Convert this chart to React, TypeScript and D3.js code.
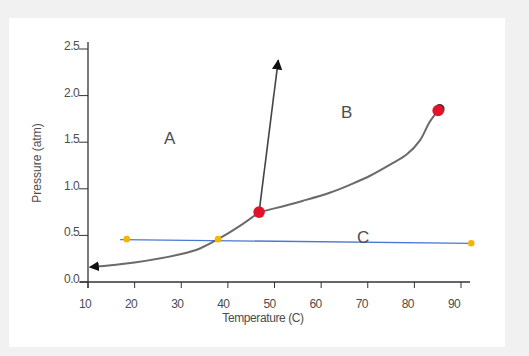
import React from "react";
import * as d3 from "d3";

const xTicks = [10, 20, 30, 40, 50, 60, 70, 80, 90];
const yTicks = [0, 0.5, 1.0, 1.5, 2.0, 2.5];

const sublimationT = [10.4, 20, 30, 34, 37.9, 42.5, 46.7];
const sublimationP = [0.16, 0.21, 0.3, 0.36, 0.46, 0.6, 0.75];

const vaporT = [46.7, 50, 56, 62, 66.5, 70.5, 74.8, 78.4, 81.2, 83.3, 85.1];
const vaporP = [0.75, 0.79, 0.87, 0.96, 1.05, 1.14, 1.26, 1.37, 1.52, 1.72, 1.84];

const fusionT = [46.7, 50.8];
const fusionP = [0.75, 2.38];

const isobarT = [16.9, 92.2];
const isobarP = [0.455, 0.415];

const yellowT = [18.3, 37.9, 92.2];
const yellowP = [0.46, 0.46, 0.415];

const redT = [46.7, 85.1];
const redP = [0.75, 1.84];

const regionLabels = ["A", "B", "C"];
const regionT = [27.5, 65.5, 69];
const regionP = [1.55, 1.82, 0.48];

export default function App() {
  const W = 529, H = 356;
  const x = d3.scaleLinear().domain([10, 90]).range([88, 461]);
  const y = d3.scaleLinear().domain([0, 2.5]).range([282, 49]);
  const smooth = d3
    .line<[number, number]>()
    .x((d) => x(d[0]))
    .y((d) => y(d[1]))
    .curve(d3.curveCatmullRom.alpha(0.5));
  const straight = d3
    .line<[number, number]>()
    .x((d) => x(d[0]))
    .y((d) => y(d[1]));
  const sub = sublimationT.map((t, i) => [t, sublimationP[i]] as [number, number]);
  const vap = vaporT.map((t, i) => [t, vaporP[i]] as [number, number]);
  const fus = fusionT.map((t, i) => [t, fusionP[i]] as [number, number]);
  const iso = isobarT.map((t, i) => [t, isobarP[i]] as [number, number]);
  const grey = "#6a6a6a";
  const txt = "#4d4d4d";
  const font = "'Liberation Sans', Arial, sans-serif";
  return (
    <svg
      width={W}
      height={H}
      style={{ position: "absolute", left: 0, top: 0, display: "block" }}
      fontFamily={font}
    >
      <defs>
        <marker id="arr" viewBox="0 0 10 10" refX="9" refY="5" markerWidth="5" markerHeight="5" orient="auto">
          <path d="M0,0 L10,5 L0,10 Z" fill="#111" />
        </marker>
        <marker id="arr2" viewBox="0 0 10 10" refX="9" refY="5" markerWidth="6.5" markerHeight="6.5" orient="auto">
          <path d="M0,0 L10,5 L0,10 Z" fill="#111" />
        </marker>
      </defs>
      <rect x={0} y={0} width={W} height={H} fill="#f1f1f1" />
      <rect x={9} y={18} width={496} height={329} fill="#ffffff" />
      {/* axes */}
      <line x1={88} x2={88} y1={42} y2={288} stroke="#333" strokeWidth={1.3} />
      <line x1={80} x2={470} y1={282} y2={282} stroke="#333" strokeWidth={1.3} />
      {yTicks.map((t) => (
        <g key={"y" + t}>
          <line x1={79} x2={88} y1={y(t)} y2={y(t)} stroke="#333" strokeWidth={1} />
          <text x={79} y={y(t) + 1} textAnchor="end" fontSize={12} fill={txt} letterSpacing={-0.6}>
            {t.toFixed(1)}
          </text>
        </g>
      ))}
      {xTicks.map((t) => (
        <g key={"x" + t}>
          <line x1={x(t)} x2={x(t)} y1={282} y2={288} stroke="#333" strokeWidth={1} />
          <text x={x(t) - 3 - (t - 10) * 0.05} y={308} textAnchor="middle" fontSize={12} fill={txt} letterSpacing={-0.6}>
            {t}
          </text>
        </g>
      ))}
      <text x={263} y={322} textAnchor="middle" fontSize={12} fill={txt} letterSpacing={-0.4}>
        Temperature (C)
      </text>
      <text
        transform="translate(41,163) rotate(-90)"
        textAnchor="middle"
        fontSize={12}
        fill={txt}
      >
        Pressure (atm)
      </text>
      {/* isobar */}
      <path d={straight(iso)!} stroke="#4a78d0" strokeWidth={1.3} fill="none" />
      {/* curves */}
      <path d={smooth(sub)!} stroke={grey} strokeWidth={2} fill="none" />
      <path d={straight(sub.slice(0, 2).reverse())!} stroke="none" fill="none" markerEnd="url(#arr)" strokeWidth={2} />
      <path d={smooth(vap)!} stroke={grey} strokeWidth={2} fill="none" />
      <path d={straight(fus)!} stroke="#444" strokeWidth={1.6} fill="none" markerEnd="url(#arr2)" />
      {yellowT.map((t, i) => (
        <circle key={"yl" + i} cx={x(t)} cy={y(yellowP[i])} r={3.3} fill="#f7b500" />
      ))}
      <circle cx={x(redT[1]) + 1.5} cy={y(redP[1]) - 1.5} r={5} fill="#333" />
      {redT.map((t, i) => (
        <circle key={"r" + i} cx={x(t)} cy={y(redP[i])} r={5.8} fill="#e3122b" />
      ))}
      {regionLabels.map((l, i) => (
        <text key={l} x={x(regionT[i])} y={y(regionP[i]) + 6} textAnchor="middle" fontSize={17} fill={txt}>
          {l}
        </text>
      ))}
    </svg>
  );
}
